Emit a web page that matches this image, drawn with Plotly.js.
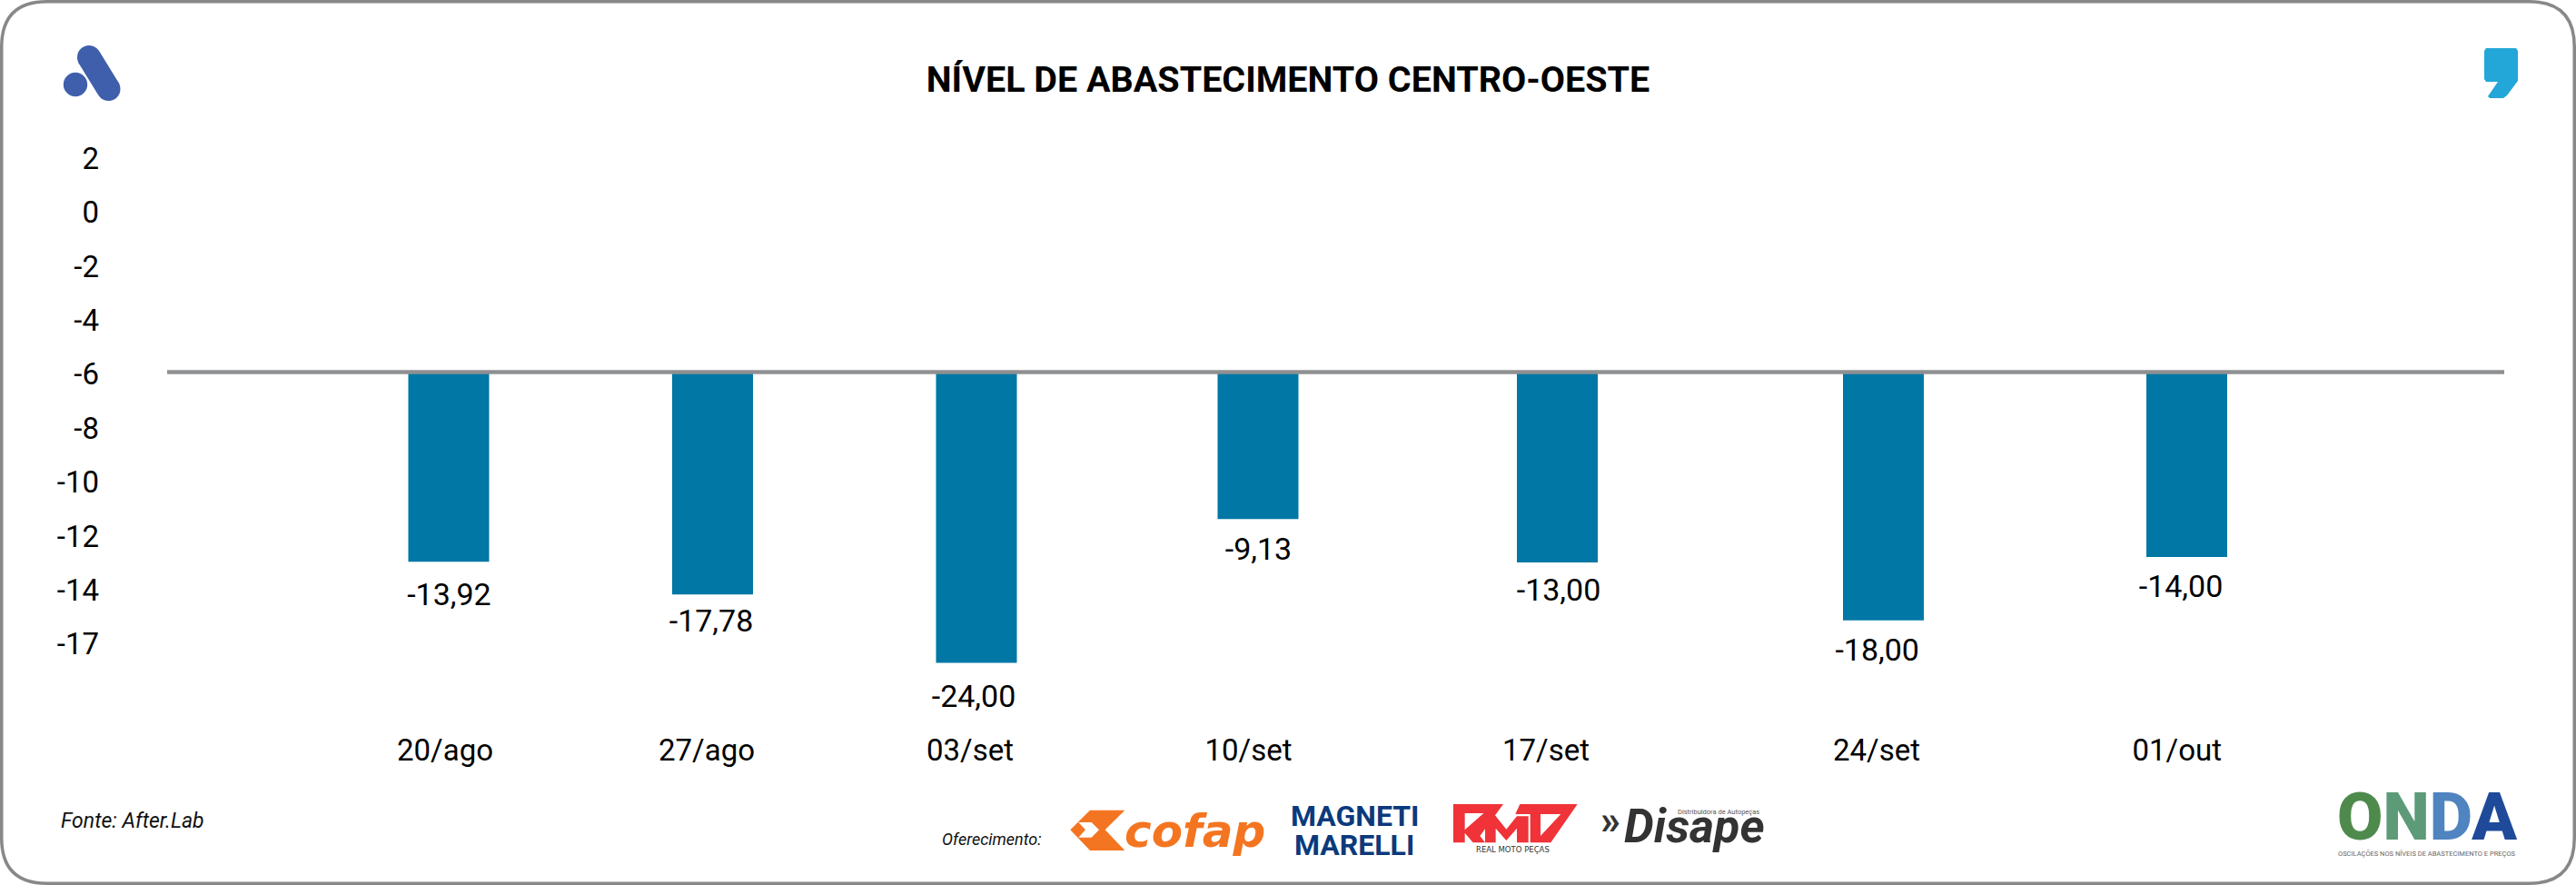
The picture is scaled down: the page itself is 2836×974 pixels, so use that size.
<!DOCTYPE html>
<html>
<head>
<meta charset="utf-8">
<script src="https://cdn.plot.ly/plotly-3.0.1.min.js"></script>
<style>html,body{margin:0;padding:0;background:#fff}#chart{width:2836px;height:974px}</style>
</head>
<body>
<div id="chart"></div>
<script>
// Values
const categories = ["20/ago","27/ago","03/set","10/set","17/set","24/set","01/out"];
const valueLabels = ["-13,92","-17,78","-24,00","-9,13","-13,00","-18,00","-14,00"];
const barLevels = [-12.95,-14.16,-16.69,-11.37,-12.97,-15.12,-12.77];
const labelLevels = [-14.27,-15.24,-18.03,-12.58,-14.09,-16.32,-13.95];
const barSlots = [3.82,6.725,9.63,12.73,16.025,19.615,22.955];
const labelSlots = [3.824,6.71,9.60,12.735,16.04,19.547,22.89];
const tickSlots = [3.78,6.66,9.56,12.625,15.90,19.54,22.847];
const yTickVals = [2,0,-2,-4,-6,-8,-10,-12,-14,-16];
const yTickText = ["2","0","-2","-4","-6","-8","-10","-12","-14","-17"];
const baseLevel = -5.92;

const W = 2836, H = 974, M = {l:112, r:56, t:100, b:176};
const px = x => (x - M.l) / (W - M.l - M.r);
const py = y => 1 - (y - M.t) / (H - M.t - M.b);
const FONT = "Roboto, sans-serif";

function poly(pts, ox, oy, s) {
  return "M" + pts.map(p => px(ox + p[0]/s) + "," + py(oy + p[1]/s)).join("L") + "Z";
}
function paperShape(path, color) {
  return {type:"path", xref:"paper", yref:"paper", path, fillcolor:color, line:{width:0}, layer:"above"};
}
function disc(cx, cy, r, color) {
  return {type:"circle", xref:"paper", yref:"paper", x0:px(cx-r), x1:px(cx+r), y0:py(cy+r), y1:py(cy-r),
          fillcolor:color, line:{width:0}};
}
function note(text, x, y, size, color, opt) {
  opt = opt || {};
  return {xref:"paper", yref:"paper", x:px(x), y:py(y), text, showarrow:false,
          xanchor:opt.anchor || "center", yanchor:"middle",
          font:{family:opt.family || FONT, size, color, weight:opt.weight || 400, style:opt.style || "normal"}};
}

// frame
const r = 50, a = 1.75, bx = W - a, by = H - a;
const P = (x,y) => px(x) + "," + py(y);
const frame = {type:"path", xref:"paper", yref:"paper", line:{color:"#87888a", width:3.5}, fillcolor:"rgba(0,0,0,0)",
  path:`M${P(a+r,a)}L${P(bx-r,a)}Q${P(bx,a)} ${P(bx,a+r)}L${P(bx,by-r)}Q${P(bx,by)} ${P(bx-r,by)}L${P(a+r,by)}Q${P(a,by)} ${P(a,by-r)}L${P(a,a+r)}Q${P(a,a)} ${P(a+r,a)}Z`};

const shapes = [
  frame,
  {type:"line", xref:"x", yref:"y", x0:0.72, x1:26.45, y0:baseLevel, y1:baseLevel, line:{color:"#8f9092", width:4.5}, layer:"above"},
  // top-left mark
  disc(83,93,13.2,"#3f5fac"),
  disc(98,63,13,"#3f5fac"), disc(119.5,98,13,"#3f5fac"),
  paperShape(poly([[86,68.5],[110,57.5],[131.5,92.5],[107.5,103.5]],0,0,1),"#3f5fac"),
  // top-right mark
  paperShape(poly([[2735,56],[2737,53],[2770,53],[2772,56],[2772,89],[2760,105],[2756,108],[2741,108],[2739,106],[2750,90],[2737,90],[2735,87]],0,0,1),"#22a7d8"),
  // cofap mark
  paperShape(poly([[25,130],[90,65],[205,65],[140,130],[205,198],[90,198]],1170,870,3)
            +poly([[52,105],[95,105],[120,130],[95,155],[52,155],[75,130]],1170,870,3),"#f47521"),
  // rmp mark
  paperShape(poly([[30,45],[195,45],[118,150],[135,172],[95,172],[68,140],[68,172],[30,172]],1590,870,3)
            +poly([[68,75],[130,75],[68,130]],1590,870,3),"#ef3338"),
  paperShape(poly([[135,172],[135,118],[165,78],[205,128],[240,85],[278,85],[278,172],[240,172],[240,125],[205,165],[170,125],[170,172]],1590,870,3),"#ef3338"),
  paperShape(poly([[250,45],[440,45],[352,172],[284,172],[284,78],[235,78]],1590,870,3)
            +poly([[318,78],[385,78],[318,150]],1590,870,3),"#ef3338"),
];

const annotations = [
  note("Fonte: After.Lab", 65, 903, 23, "#111", {anchor:"left", style:"italic"}),
  note("Oferecimento:", 1035, 923, 18, "#111", {anchor:"left", style:"italic"}),
  note("cofap", 1315, 915, 50, "#f47521", {family:"DejaVu Sans", weight:700, style:"italic"}),
  note("MAGNETI", 1491, 898, 32, "#0b3a7c", {weight:700}),
  note("MARELLI", 1491, 930, 32, "#0b3a7c", {weight:700}),
  note("REAL MOTO PEÇAS", 1665, 935, 8.5, "#333", {family:"DejaVu Sans"}),
  note("»", 1773, 903, 44, "#333", {weight:700}),
  note("Disape", 1865, 909, 52, "#333", {weight:700, style:"italic"}),
  note("Distribuidora de Autopeças", 1892, 893, 7.5, "#555"),
  note('<span style="color:#4f8a4d">O</span><span style="color:#5c9a78">N</span><span style="color:#4f84c0">D</span><span style="color:#1f4a9a">A</span>',
       2672, 899, 73, "#4f8a4d", {weight:900}),
  note("OSCILAÇÕES NOS NÍVEIS DE ABASTECIMENTO E PREÇOS", 2672, 939, 7.5, "#666"),
];

const traces = [
  {type:"bar", x:barSlots, y:barLevels.map(v => v - baseLevel), base:baseLevel, width:0.89,
   marker:{color:"#0077a4"}, hoverinfo:"skip", showlegend:false},
  {type:"scatter", mode:"text", x:labelSlots, y:labelLevels, text:valueLabels, textposition:"middle center",
   textfont:{family:FONT, size:34, color:"#000"}, cliponaxis:false, hoverinfo:"skip", showlegend:false}
];

const layout = {
  width:W, height:H, margin:M, paper_bgcolor:"#fff", plot_bgcolor:"#fff", showlegend:false,
  title:{text:"NÍVEL DE ABASTECIMENTO CENTRO-OESTE", x:0.5, xanchor:"center", y:1-87.5/H, yanchor:"middle",
         font:{family:FONT, size:39.5, color:"#000", weight:700}},
  xaxis:{range:[0,26.68], showgrid:false, zeroline:false, showline:false, ticks:"", tickmode:"array",
         tickvals:tickSlots, ticktext:categories, tickfont:{family:FONT, size:33, color:"#000"}, ticklabelstandoff:5},
  yaxis:{range:[-19,4.5], showgrid:false, zeroline:false, showline:false, ticks:"", tickmode:"array",
         tickvals:yTickVals, ticktext:yTickText, tickfont:{family:FONT, size:33, color:"#000"}, ticklabelstandoff:2},
  shapes, annotations
};
Plotly.newPlot("chart", traces, layout, {displayModeBar:false, staticPlot:true});
</script>
</body>
</html>
